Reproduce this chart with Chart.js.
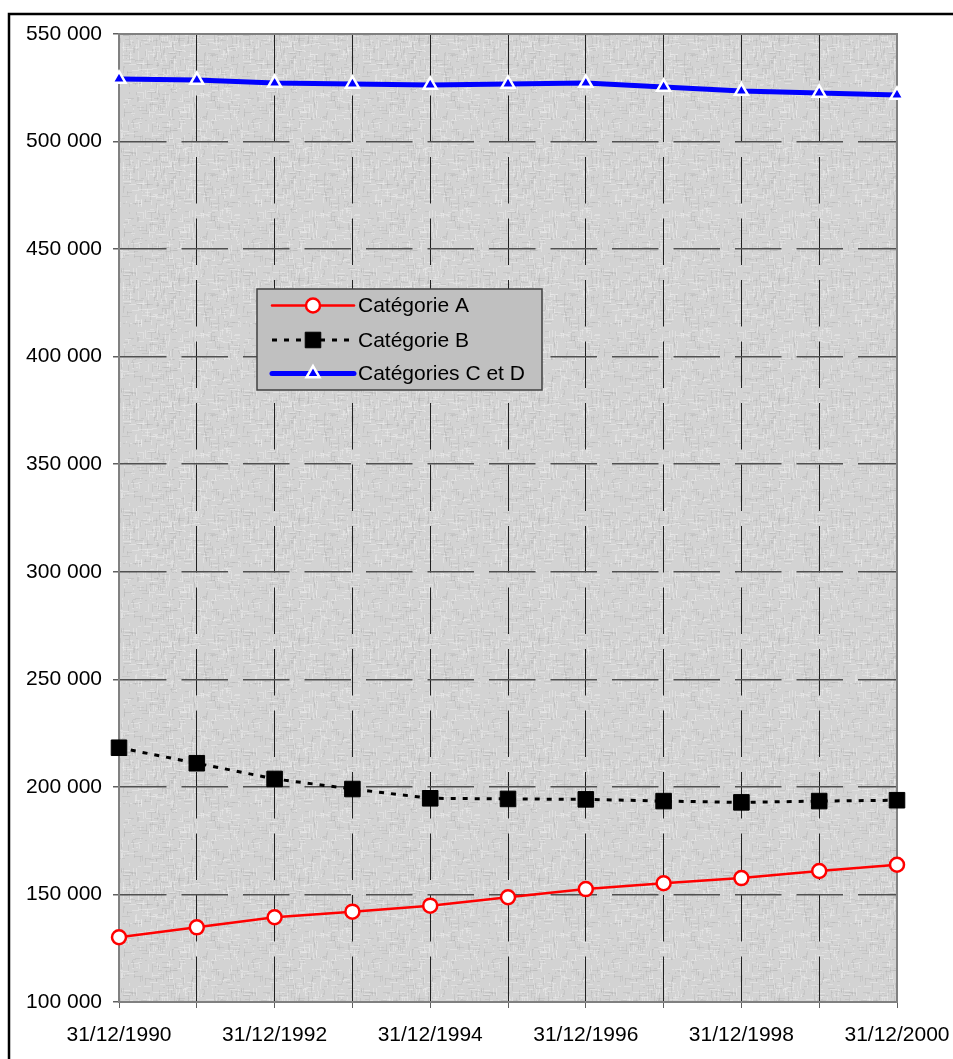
<!DOCTYPE html>
<html>
<head>
<meta charset="utf-8">
<title>Catégories 1990-2000</title>
<script src="https://cdn.jsdelivr.net/npm/chart.js@4/dist/chart.umd.min.js"></script>
<style>
  html, body { margin: 0; padding: 0; background: #fff; }
  #wrap { position: relative; width: 953px; height: 1059px; }
</style>
</head>
<body>
<div id="wrap"><canvas id="evolChart"></canvas></div>
<script>
// dates de fin d'année
const annees = ['31/12/1990', '31/12/1991', '31/12/1992', '31/12/1993', '31/12/1994', '31/12/1995',
                '31/12/1996', '31/12/1997', '31/12/1998', '31/12/1999', '31/12/2000'];

const categorieA = [130100, 134700, 139400, 142000, 144800, 148700, 152500, 155200, 157600, 160900, 163800];
const categorieB = [218200, 211000, 203700, 199000, 194700, 194400, 194200, 193400, 192800, 193400, 193800];
const categoriesCD = [529100, 528600, 527200, 526800, 526300, 526800, 527200, 525400, 523500, 522600, 521700];

const yMin = 100000;
const yMax = 550000;
const yPas = 50000;

const police = '"Liberation Sans", Arial, sans-serif';

function formatMilliers(v) {
    return String(v).replace(/\B(?=(\d{3})+(?!\d))/g, ' ');
}

// petit motif gris "toile" pour le fond de la zone de tracé
function creerMotif() {
    const brut = document.createElement('canvas');
    brut.width = 120; brut.height = 120;
    const g = brut.getContext('2d');
    g.fillStyle = '#d3d3d3';
    g.fillRect(0, 0, 120, 120);
    const h = n => { const s = Math.sin(n * 12.9898) * 43758.5453; return s - Math.floor(s); };
    for (let i = 0; i < 900; i++) {
        const x = Math.floor(h(i + 1) * 120);
        const y = Math.floor(h(i + 501) * 120);
        const len = 2 + Math.floor(h(i + 1001) * 7);
        const clair = h(i + 1501) > 0.5;
        g.fillStyle = clair ? 'rgba(238,238,238,0.5)' : 'rgba(170,170,170,0.3)';
        if (h(i + 2001) > 0.5) g.fillRect(x, y, len, 1);
        else g.fillRect(x, y, 1, len);
    }
    // adoucir le grain
    const c = document.createElement('canvas');
    c.width = 120; c.height = 120;
    const g2 = c.getContext('2d');
    g2.filter = 'blur(0.5px)';
    g2.drawImage(brut, 0, 0);
    return c;
}

const fondTexture = {
    id: 'fondTexture',
    beforeDraw(chart) {
        const { ctx, chartArea: a } = chart;
        ctx.save();
        // cadre extérieur
        ctx.strokeStyle = '#000';
        ctx.lineWidth = 2.5;
        ctx.beginPath();
        ctx.moveTo(9, chart.height + 2);
        ctx.lineTo(9, 14);
        ctx.lineTo(chart.width + 2, 14);
        ctx.stroke();
        ctx.fillStyle = '#d3d3d3';
        ctx.fillRect(a.left, a.top, a.right - a.left, a.bottom - a.top);
        ctx.fillStyle = ctx.createPattern(creerMotif(), 'repeat');
        ctx.fillRect(a.left, a.top, a.right - a.left, a.bottom - a.top);
        ctx.restore();
    },
    beforeDatasetsDraw(chart) {
        const { ctx, chartArea: a } = chart;
        ctx.save();
        ctx.strokeStyle = '#808080';
        ctx.lineWidth = 2;
        ctx.strokeRect(a.left, a.top, a.right - a.left, a.bottom - a.top);
        ctx.restore();
    }
};

// légende posée dans la zone de tracé
const legendeInterne = {
    id: 'legendeInterne',
    afterDatasetsDraw(chart) {
        const ctx = chart.ctx;
        const box = { x: 257, y: 289, w: 285, h: 101 };
        ctx.save();
        ctx.fillStyle = '#c0c0c0';
        ctx.fillRect(box.x, box.y, box.w, box.h);
        ctx.strokeStyle = '#404040';
        ctx.lineWidth = 1.5;
        ctx.strokeRect(box.x, box.y, box.w, box.h);
        const rows = [305.5, 340, 373.5];
        chart.data.datasets.forEach((ds, i) => {
            const y = rows[i];
            ctx.strokeStyle = ds.borderColor;
            ctx.lineWidth = ds.borderWidth;
            ctx.setLineDash(ds.borderDash || []);
            ctx.lineCap = ds.borderDash ? 'butt' : 'round';
            ctx.beginPath();
            ctx.moveTo(272, y);
            ctx.lineTo(354, y);
            ctx.stroke();
            ctx.setLineDash([]);
            const mx = 313;
            ctx.fillStyle = ds.pointBackgroundColor;
            ctx.strokeStyle = ds.pointBorderColor;
            ctx.lineWidth = ds.pointBorderWidth;
            ctx.beginPath();
            if (ds.pointStyle === 'circle') {
                ctx.arc(mx, y, ds.pointRadius, 0, Math.PI * 2);
            } else if (ds.pointStyle === 'rect') {
                const s = ds.pointRadius * Math.SQRT1_2;
                ctx.rect(mx - s, y - s, 2 * s, 2 * s);
            } else {
                const r = ds.pointRadius;
                ctx.moveTo(mx, y - r);
                ctx.lineTo(mx + r * Math.sin(2 * Math.PI / 3), y - r * Math.cos(2 * Math.PI / 3));
                ctx.lineTo(mx + r * Math.sin(4 * Math.PI / 3), y - r * Math.cos(4 * Math.PI / 3));
                ctx.closePath();
            }
            ctx.fill();
            ctx.stroke();
            ctx.fillStyle = '#000';
            ctx.font = '21px ' + police;
            ctx.textBaseline = 'middle';
            ctx.textAlign = 'left';
            ctx.fillText(ds.label, 358, y + 1);
        });
        ctx.restore();
    }
};

const ctxEvol = document.getElementById('evolChart');

new Chart(ctxEvol, {
    type: 'line',
    data: {
        labels: annees,
        datasets: [{
            label: 'Catégorie A',
            data: categorieA,
            borderColor: '#ff0000',
            borderWidth: 2.5,
            pointStyle: 'circle',
            pointRadius: 7,
            pointBackgroundColor: '#ffffff',
            pointBorderColor: '#ff0000',
            pointBorderWidth: 2.5,
            tension: 0,
            clip: false
        }, {
            label: 'Catégorie B',
            data: categorieB,
            borderColor: '#000000',
            borderWidth: 3,
            borderDash: [5, 7],
            pointStyle: 'rect',
            pointRadius: 11,
            pointBackgroundColor: '#000000',
            pointBorderColor: '#000000',
            pointBorderWidth: 1,
            tension: 0,
            clip: false
        }, {
            label: 'Catégories C et D',
            data: categoriesCD,
            borderColor: '#0000ff',
            borderWidth: 5,
            pointStyle: 'triangle',
            pointRadius: 7.5,
            pointBackgroundColor: '#0000ff',
            pointBorderColor: '#ffffff',
            pointBorderWidth: 2.5,
            tension: 0,
            clip: false
        }]
    },
    options: {
        responsive: true,
        maintainAspectRatio: false,
        animation: false,
        layout: { padding: { top: 34, right: 56, left: 0, bottom: 0 } },
        plugins: {
            legend: { display: false },
            tooltip: { enabled: false }
        },
        scales: {
            x: {
                offset: false,
                afterFit: s => { s.height = 57; s.paddingLeft = 0; s.paddingRight = 0; },
                grid: { color: '#202020', lineWidth: 1, tickLength: 6, tickColor: '#606060' },
                border: { display: true, color: '#808080', width: 2, dash: [46.5, 15] },
                ticks: {
                    autoSkip: false,
                    maxRotation: 0,
                    padding: 15,
                    color: '#000',
                    font: { family: police, size: 21 },
                    callback: function (v, i) { return i % 2 === 0 ? annees[i] : ''; }
                }
            },
            y: {
                min: yMin,
                max: yMax,
                afterFit: s => { s.width = 119; },
                grid: { color: '#505050', lineWidth: 1.5, tickLength: 6, tickColor: '#606060' },
                border: { display: true, color: '#808080', width: 2, dash: [46.5, 15] },
                ticks: {
                    stepSize: yPas,
                    padding: 11,
                    color: '#000',
                    font: { family: police, size: 21 },
                    callback: v => formatMilliers(v)
                }
            }
        }
    },
    plugins: [fondTexture, legendeInterne]
});
</script>
</body>
</html>
